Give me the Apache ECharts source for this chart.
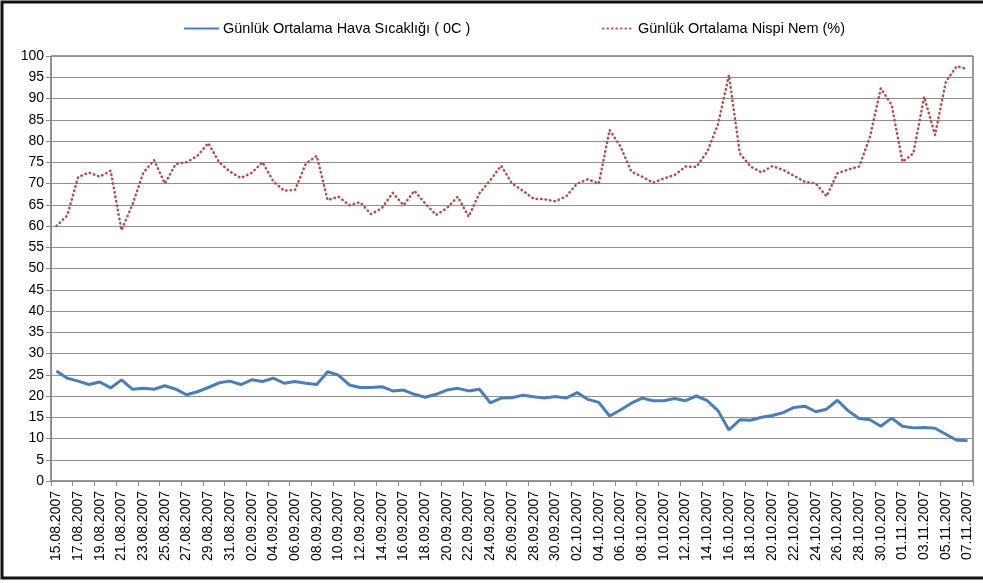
<!DOCTYPE html>
<html>
<head>
<meta charset="utf-8">
<script src="https://cdn.jsdelivr.net/npm/echarts@6/dist/echarts.min.js"></script>
<style>
  html, body { margin: 0; padding: 0; background: #fff; }
  #chart { width: 983px; height: 583px; }
</style>
</head>
<body>
<div id="chart"></div>
<script>
/* tarihler: 15.08.2007 - 07.11.2007, gunluk */
var startDate = new Date(2007, 7, 15);
var dates = [];
for (var d = 0; d < 85; d++) {
    var dt = new Date(startDate.getTime() + d * 86400000);
    var dd = ('0' + dt.getDate()).slice(-2);
    var mm = ('0' + (dt.getMonth() + 1)).slice(-2);
    dates.push(dd + '.' + mm + '.' + dt.getFullYear());
}

var seriesNames = ['Günlük Ortalama Hava Sıcaklığı ( 0C )', 'Günlük Ortalama Nispi Nem (%)'];

/* sicaklik (0C) */
var sicaklik = [
    25.9, 24.2, 23.5, 22.7, 23.3, 21.9, 23.8, 21.6, 21.8, 21.6,
    22.4, 21.6, 20.3, 21.0, 22.0, 23.1, 23.5, 22.7, 23.8, 23.4,
    24.2, 23.0, 23.4, 23.0, 22.7, 25.7, 24.9, 22.6, 22.0, 22.0,
    22.2, 21.2, 21.4, 20.4, 19.7, 20.4, 21.4, 21.8, 21.2, 21.6,
    18.4, 19.5, 19.6, 20.2, 19.8, 19.5, 19.9, 19.5, 20.8, 19.2,
    18.5, 15.3, 16.7, 18.3, 19.5, 18.9, 18.9, 19.4, 18.9, 20.0,
    18.9, 16.5, 12.0, 14.4, 14.3, 15.0, 15.4, 16.1, 17.3, 17.6,
    16.3, 16.9, 19.0, 16.5, 14.7, 14.4, 12.9, 14.8, 12.9, 12.5,
    12.6, 12.4, 11.0, 9.6, 9.5
];

/* nispi nem (%) */
var nem = [
    60.0, 62.5, 71.5, 72.6, 71.6, 73.0, 59.0, 65.0, 72.5, 75.5,
    70.0, 74.6, 75.0, 76.5, 79.5, 75.0, 72.8, 71.3, 72.5, 75.0,
    70.5, 68.3, 68.5, 74.7, 76.5, 66.1, 66.9, 64.9, 65.6, 62.8,
    64.2, 67.8, 64.9, 68.3, 65.3, 62.6, 64.2, 66.9, 62.2, 67.7,
    70.8, 74.2, 70.0, 68.3, 66.4, 66.3, 65.8, 67.0, 70.0, 71.0,
    70.0, 82.6, 78.7, 72.8, 71.6, 70.2, 71.2, 72.0, 74.0, 73.9,
    77.5, 84.0, 95.5, 77.1, 74.0, 72.6, 74.1, 73.2, 71.8, 70.4,
    70.0, 67.0, 72.4, 73.3, 74.0, 81.0, 92.4, 88.5, 75.1, 77.1,
    90.4, 81.4, 94.0, 97.6, 96.9
];

var yTicks = { min: 0, max: 100, interval: 5 };

var myChart = echarts.init(document.getElementById('chart'), null, { renderer: 'canvas' });

var fontFam = 'Arial, "Liberation Sans", sans-serif';

var option = {
    animation: false,
    backgroundColor: '#fff',
    textStyle: { fontFamily: fontFam },
    graphic: [{
        type: 'rect',
        shape: { x: 2, y: 2, width: 984, height: 576 },
        style: { fill: 'none', stroke: '#111', lineWidth: 3 },
        silent: true
    }],
    legend: [{
        data: [seriesNames[0]],
        left: 178,
        top: 16,
        itemWidth: 35,
        itemHeight: 12,
        itemGap: 4,
        itemStyle: { opacity: 0 },
        textStyle: { fontSize: 14.5, color: '#000', fontFamily: fontFam, padding: [0, 0, 0, -1] }
    }, {
        data: [seriesNames[1]],
        left: 597,
        top: 16,
        itemWidth: 31,
        itemHeight: 12,
        itemStyle: { opacity: 0 },
        textStyle: { fontSize: 14.5, color: '#000', fontFamily: fontFam, padding: [0, 0, 0, -1] }
    }],
    grid: {
        left: 51,
        right: 10,
        top: 56,
        bottom: 102,
        show: true,
        borderColor: '#333',
        borderWidth: 1,
        containLabel: false
    },
    xAxis: {
        type: 'category',
        data: dates,
        boundaryGap: true,
        axisLine: { lineStyle: { color: '#888' } },
        axisTick: { show: true, interval: 1, length: 5, lineStyle: { color: '#888' } },
        axisLabel: {
            interval: 1,
            rotate: 90,
            fontSize: 14,
            color: '#000',
            margin: 10,
            fontFamily: fontFam
        },
        splitLine: { show: false }
    },
    yAxis: {
        type: 'value',
        min: yTicks.min,
        max: yTicks.max,
        interval: yTicks.interval,
        axisLine: { show: true, lineStyle: { color: '#888' } },
        axisTick: { show: true, length: 5, lineStyle: { color: '#888' } },
        axisLabel: { fontSize: 14, color: '#000', margin: 7, fontFamily: fontFam },
        splitLine: { show: true, lineStyle: { color: '#8f8f8f', width: 1 } }
    },
    series: [{
        name: seriesNames[0],
        type: 'line',
        data: sicaklik,
        symbol: 'none',
        smooth: false,
        color: '#4a7ebb',
        lineStyle: { color: '#4a7ebb', width: 3 }
    }, {
        name: seriesNames[1],
        type: 'line',
        data: nem,
        symbol: 'none',
        smooth: false,
        color: '#b84a47',
        lineStyle: { color: '#b84a47', width: 2.5, type: [0.5, 4], cap: 'round' }
    }]
};

myChart.setOption(option);
</script>
</body>
</html>
